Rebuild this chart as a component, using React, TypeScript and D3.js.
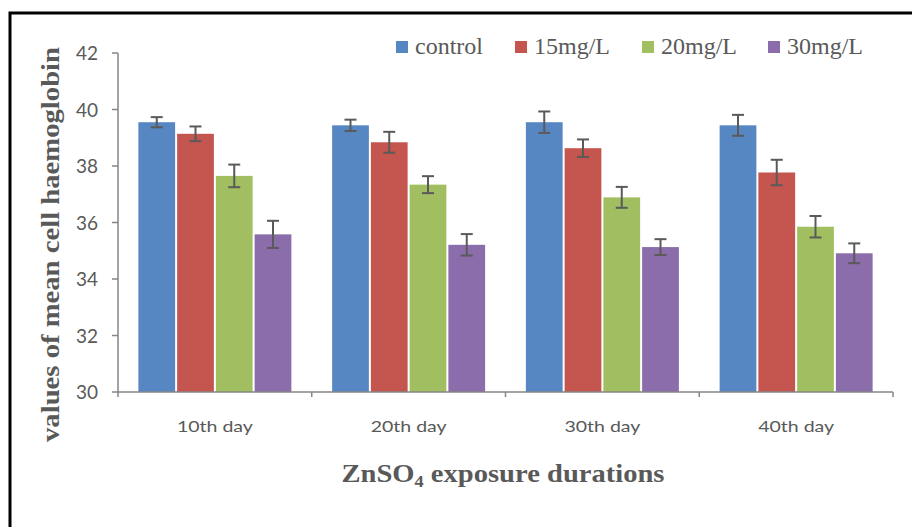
import React from "react";
import * as d3 from "d3";

const categories = ["10th day", "20th day", "30th day", "40th day"];
const seriesNames = ["control", "15mg/L", "20mg/L", "30mg/L"];
const controlVals = [39.55, 39.44, 39.55, 39.44];
const mg15Vals = [39.14, 38.84, 38.63, 37.77];
const mg20Vals = [37.65, 37.34, 36.89, 35.85];
const mg30Vals = [35.58, 35.21, 35.13, 34.91];
const controlErr = [0.18, 0.2, 0.38, 0.37];
const mg15Err = [0.26, 0.37, 0.31, 0.45];
const mg20Err = [0.4, 0.3, 0.37, 0.38];
const mg30Err = [0.48, 0.38, 0.28, 0.35];
const yTicks = [30, 32, 34, 36, 38, 40, 42];
const colors = ["#5687C2", "#C4554F", "#A1BF61", "#8A6DAA"];

const values = [controlVals, mg15Vals, mg20Vals, mg30Vals];
const errors = [controlErr, mg15Err, mg20Err, mg30Err];

const W = 912;
const H = 527;
const left = 118;
const right = 893;
const top = 53;
const bottom = 392;

export default function App() {
  const y = d3.scaleLinear().domain([30, 42]).range([bottom, top]);
  const x0 = d3.scaleBand<string>().domain(categories).range([left, right]).paddingInner(0).paddingOuter(0);
  const bw = x0.bandwidth();
  const x1 = d3
    .scaleBand<string>()
    .domain(seriesNames)
    .range([bw * 0.1, bw * 0.9])
    .paddingInner(0);
  const gray = "#595959";
  const axisColor = "#868686";
  const legendX = [396, 515, 642, 768];

  return (
    <svg
      width={W}
      height={H}
      style={{ position: "absolute", left: 0, top: 0, background: "#fff" }}
    >
      <rect x={0} y={0} width={W} height={H} fill="#fff" />
      <rect x={10} y={13} width={930} height={540} fill="none" stroke="#000" strokeWidth={3} />

      {/* bars */}
      {categories.map((c, ci) => (
        <g key={c} transform={`translate(${x0(c)},0)`}>
          {seriesNames.map((s, si) => {
            const v = values[si][ci];
            const e = errors[si][ci];
            const bx = x1(s)!;
            const w = x1.bandwidth();
            const cx = bx + w / 2;
            return (
              <g key={s}>
                <rect
                  x={bx + 1}
                  y={y(v)}
                  width={w - 2}
                  height={y(30) - y(v)}
                  fill={colors[si]}
                />
                <line x1={cx} x2={cx} y1={y(v + e)} y2={y(v - e)} stroke="#5a5a5a" strokeWidth={2} />
                <line x1={cx - 6} x2={cx + 6} y1={y(v + e)} y2={y(v + e)} stroke="#5a5a5a" strokeWidth={2} />
                <line x1={cx - 6} x2={cx + 6} y1={y(v - e)} y2={y(v - e)} stroke="#5a5a5a" strokeWidth={2} />
              </g>
            );
          })}
        </g>
      ))}

      {/* y axis */}
      <line x1={left} x2={left} y1={top} y2={bottom} stroke={axisColor} strokeWidth={1.5} />
      {yTicks.map((t) => (
        <g key={t}>
          <line x1={left - 6} x2={left} y1={y(t)} y2={y(t)} stroke={axisColor} strokeWidth={1.5} />
          <text
            x={98}
            y={y(t) + 7}
            textAnchor="end"
            fontFamily="Lato, 'Open Sans', sans-serif"
            fontSize={19}
            fill={gray}
          >
            {t}
          </text>
        </g>
      ))}

      {/* x axis */}
      <line x1={left} x2={right} y1={bottom} y2={bottom} stroke={axisColor} strokeWidth={1.5} />
      {[...categories.map((c) => x0(c)!), right].map((px, i) => (
        <line key={i} x1={px} x2={px} y1={bottom} y2={bottom + 5} stroke={axisColor} strokeWidth={1.5} />
      ))}
      {categories.map((c) => (
        <text
          key={c}
          x={x0(c)! + bw / 2}
          y={432}
          textAnchor="middle"
          fontFamily="Lato, 'Open Sans', sans-serif"
          fontSize={16}
          fill={gray}
          textLength={76}
          lengthAdjust="spacingAndGlyphs"
        >
          {c}
        </text>
      ))}

      {/* legend */}
      {seriesNames.map((s, i) => (
        <g key={s}>
          <rect x={legendX[i]} y={41} width={12} height={12} fill={colors[i]} />
          <text
            x={legendX[i] + 19}
            y={54}
            fontFamily="'Liberation Serif', 'Times New Roman', serif"
            fontSize={24}
            fill={gray}
          >
            {s}
          </text>
        </g>
      ))}

      {/* y title */}
      <text
        transform={`translate(59,${244.5}) rotate(-90)`}
        textAnchor="middle"
        fontFamily="'Liberation Serif', 'Times New Roman', serif"
        fontWeight="bold"
        fontSize={25}
        fill={gray}
        textLength={395}
        lengthAdjust="spacingAndGlyphs"
      >
        values of mean cell haemoglobin
      </text>

      {/* x title */}
      <text
        x={341.5}
        y={482}
        fontFamily="'Liberation Serif', 'Times New Roman', serif"
        fontWeight="bold"
        fontSize={25}
        fill={gray}
        textLength={323}
        lengthAdjust="spacingAndGlyphs"
      >
        ZnSO
        <tspan fontSize={16} dy={5}>4</tspan>
        <tspan dy={-5}> exposure durations</tspan>
      </text>
    </svg>
  );
}
